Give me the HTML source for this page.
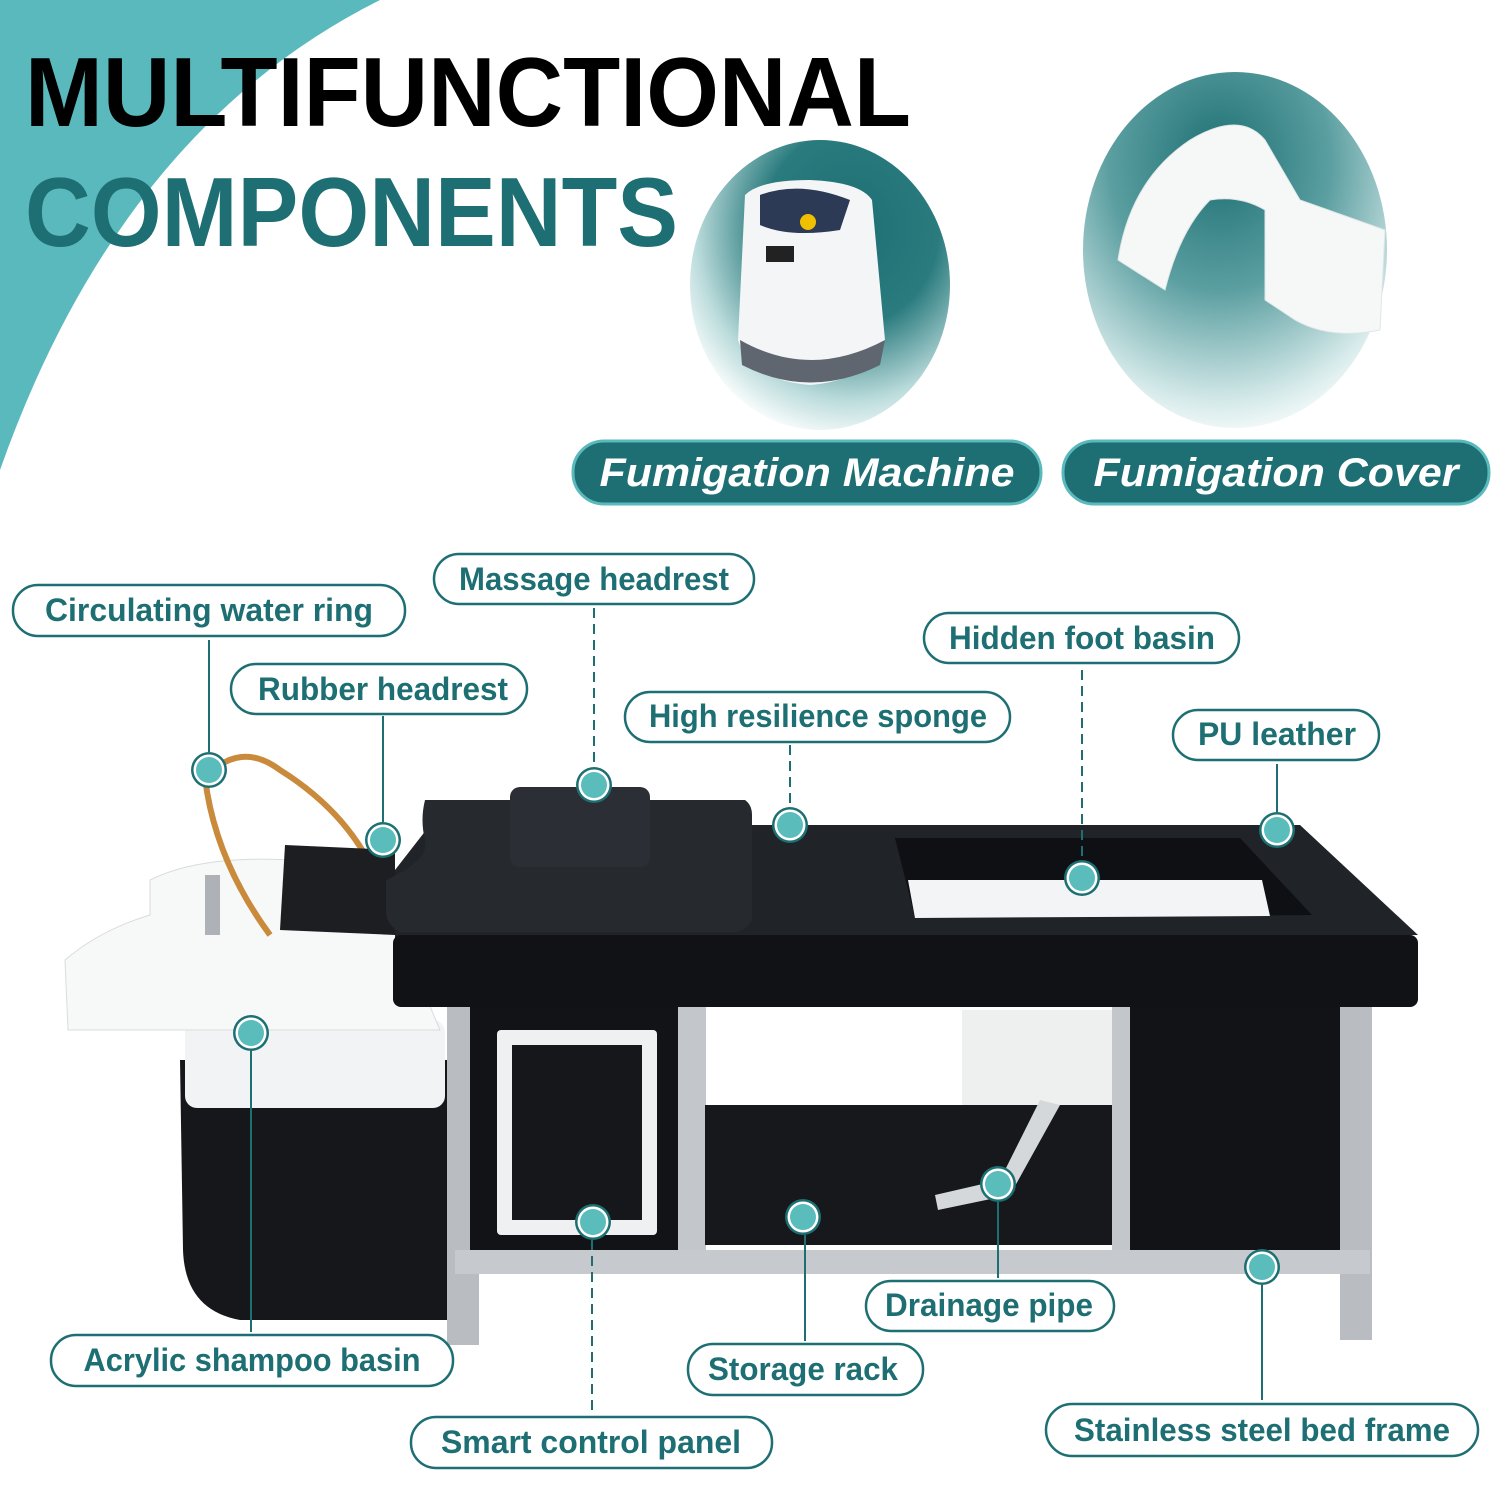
<!DOCTYPE html>
<html><head><meta charset="utf-8"><style>html,body{margin:0;padding:0;background:#fff}svg{display:block}</style></head>
<body>
<svg width="1500" height="1500" viewBox="0 0 1500 1500" xmlns="http://www.w3.org/2000/svg" font-family="Liberation Sans, sans-serif">
<defs>
<radialGradient id="g1" cx="0.62" cy="0.3" r="0.75"><stop offset="0" stop-color="#1d6f73"/><stop offset="0.45" stop-color="#2a7b7e"/><stop offset="0.8" stop-color="#bcdcdc"/><stop offset="1" stop-color="#fff"/></radialGradient>
<radialGradient id="g2" cx="0.45" cy="0.25" r="0.8"><stop offset="0" stop-color="#1d6f73"/><stop offset="0.45" stop-color="#5a9ea0"/><stop offset="0.85" stop-color="#d6eaea"/><stop offset="1" stop-color="#fff"/></radialGradient>
<g id="dot"><circle r="18" fill="#1d6f73"/><circle r="15.5" fill="#fff"/><circle r="13" fill="#5bbcbc"/></g>
</defs>
<path d="M0,0 L380,0 Q120,130 0,470 Z" fill="#5ab9bd"/>
<text x="25" y="126" font-size="98" font-weight="bold" fill="#000" textLength="886" lengthAdjust="spacingAndGlyphs">MULTIFUNCTIONAL</text>
<text x="25" y="246" font-size="98" font-weight="bold" fill="#1d6f73" textLength="653" lengthAdjust="spacingAndGlyphs">COMPONENTS</text>

<ellipse cx="820" cy="285" rx="130" ry="145" fill="url(#g1)"/>
<ellipse cx="1235" cy="250" rx="152" ry="178" fill="url(#g2)"/>
<!-- machine -->
<path d="M745,195 Q760,180 810,180 Q860,182 872,200 L885,340 Q870,380 810,385 Q750,380 738,340 Z" fill="#f4f5f6"/>
<path d="M740,340 Q810,380 885,340 L880,365 Q810,400 742,365 Z" fill="#5f6670"/>
<path d="M760,195 Q800,180 850,200 L840,230 Q790,238 760,225 Z" fill="#2c3a55"/>
<circle cx="808" cy="222" r="8" fill="#f0c000"/>
<rect x="766" y="246" width="28" height="16" fill="#222"/>
<!-- cover -->
<path d="M1190,140 Q1240,110 1265,140 L1300,200 L1385,230 L1380,330 Q1330,340 1295,320 L1265,300 L1265,210 Q1240,195 1210,200 Q1180,230 1165,290 L1118,260 Q1130,180 1190,140 Z" fill="#f6f8f8" stroke="#e0e6e6"/>

<rect x="573" y="441" width="468" height="63" rx="31" fill="#1d6f73" stroke="#5ab9bd" stroke-width="3"/>
<text x="807" y="486" font-size="40" font-weight="bold" font-style="italic" fill="#fff" text-anchor="middle" textLength="415" lengthAdjust="spacingAndGlyphs">Fumigation Machine</text>
<rect x="1063" y="441" width="426" height="63" rx="31" fill="#1d6f73" stroke="#5ab9bd" stroke-width="3"/>
<text x="1276" y="486" font-size="40" font-weight="bold" font-style="italic" fill="#fff" text-anchor="middle" textLength="365" lengthAdjust="spacingAndGlyphs">Fumigation Cover</text>

<!-- bed -->
<path d="M180,1060 L450,1060 L450,1320 L240,1320 Q185,1310 183,1250 Z" fill="#15171b"/>
<rect x="185" y="1020" width="260" height="88" rx="12" fill="#f2f3f4"/>
<path d="M65,960 Q100,930 150,915 L150,880 Q200,855 290,860 Q360,880 400,935 L440,1030 L68,1030 Z" fill="#f7f8f8" stroke="#d8dcde"/>
<rect x="205" y="875" width="15" height="60" fill="#aeb2b6"/>
<path d="M205,778 Q240,740 280,770 Q360,820 385,900" fill="none" stroke="#c98a3c" stroke-width="6"/>
<path d="M205,778 Q215,860 270,935" fill="none" stroke="#c98a3c" stroke-width="6"/>
<path d="M285,845 L395,850 L395,935 L280,930 Z" fill="#1c1e22"/>
<rect x="447" y="1005" width="32" height="340" fill="#b9bcc0"/>
<rect x="470" y="1005" width="210" height="250" fill="#111316"/>
<rect x="497" y="1030" width="160" height="205" rx="4" fill="#eef0f1"/>
<rect x="512" y="1045" width="130" height="175" fill="#15171a"/>
<rect x="678" y="1005" width="28" height="250" fill="#c3c6ca"/>
<rect x="705" y="1105" width="410" height="140" fill="#16181c"/>
<rect x="962" y="1010" width="150" height="95" fill="#eef0f0"/>
<path d="M1040,1100 L1000,1180 L935,1195 L938,1210 L1010,1195 L1060,1105 Z" fill="#d5d8da"/>
<rect x="1112" y="1005" width="28" height="250" fill="#c3c6ca"/>
<rect x="1130" y="1005" width="220" height="245" fill="#111316"/>
<rect x="1340" y="1005" width="32" height="335" fill="#b9bcc0"/>
<rect x="455" y="1250" width="915" height="24" fill="#c6c9cd"/>
<path d="M395,870 L430,825 L1300,825 L1418,935 L395,945 Z" fill="#202328"/>
<rect x="393" y="935" width="1025" height="72" rx="8" fill="#101215"/>
<path d="M895,838 L1240,838 L1312,915 L915,918 Z" fill="#0e1013"/>
<path d="M908,880 L1262,880 L1270,916 L915,918 Z" fill="#f3f4f5"/>
<path d="M425,800 L745,800 Q752,805 752,815 L752,920 Q745,932 735,932 L400,932 Q386,925 386,910 L386,880 Q430,860 425,840 Q420,820 425,800 Z" fill="#26292e"/>
<rect x="510" y="787" width="140" height="80" rx="10" fill="#2b2e34"/>

<!-- connectors -->
<g stroke="#1d6f73" stroke-width="2" fill="none">
<line x1="209" y1="640" x2="209" y2="752"/>
<line x1="594" y1="608" x2="594" y2="767" stroke-dasharray="10,6"/>
<line x1="383" y1="716" x2="383" y2="822"/>
<line x1="790" y1="745" x2="790" y2="807" stroke-dasharray="10,6"/>
<line x1="1082" y1="670" x2="1082" y2="860" stroke-dasharray="10,6"/>
<line x1="1277" y1="764" x2="1277" y2="812"/>
<line x1="251" y1="1051" x2="251" y2="1332"/>
<line x1="592" y1="1240" x2="592" y2="1413" stroke-dasharray="10,6"/>
<line x1="805" y1="1235" x2="805" y2="1341"/>
<line x1="998" y1="1202" x2="998" y2="1278"/>
<line x1="1262" y1="1285" x2="1262" y2="1400"/>
</g>
<use href="#dot" x="209" y="770"/><use href="#dot" x="594" y="785"/><use href="#dot" x="383" y="840"/>
<use href="#dot" x="790" y="825"/><use href="#dot" x="1082" y="878"/><use href="#dot" x="1277" y="830"/>
<use href="#dot" x="251" y="1033"/><use href="#dot" x="593" y="1222"/><use href="#dot" x="803" y="1217"/>
<use href="#dot" x="998" y="1184"/><use href="#dot" x="1262" y="1267"/>

<!-- labels -->
<g fill="#fff" stroke="#1d6f73" stroke-width="2.5">
<rect x="13" y="585" width="392" height="51" rx="25"/>
<rect x="434" y="554" width="320" height="50" rx="25"/>
<rect x="231" y="664" width="296" height="50" rx="25"/>
<rect x="625" y="692" width="385" height="50" rx="25"/>
<rect x="924" y="613" width="315" height="50" rx="25"/>
<rect x="1173" y="710" width="206" height="50" rx="25"/>
<rect x="51" y="1335" width="402" height="51" rx="25"/>
<rect x="411" y="1417" width="361" height="51" rx="25"/>
<rect x="688" y="1344" width="235" height="51" rx="25"/>
<rect x="866" y="1281" width="248" height="50" rx="25"/>
<rect x="1046" y="1404" width="432" height="52" rx="26"/>
</g>
<g fill="#1d6f73" font-size="32" font-weight="bold" text-anchor="middle">
<text x="209" y="621" textLength="328" lengthAdjust="spacingAndGlyphs">Circulating water ring</text>
<text x="594" y="590" textLength="270" lengthAdjust="spacingAndGlyphs">Massage headrest</text>
<text x="383" y="700" textLength="250" lengthAdjust="spacingAndGlyphs">Rubber headrest</text>
<text x="818" y="727" textLength="338" lengthAdjust="spacingAndGlyphs">High resilience sponge</text>
<text x="1082" y="649" textLength="266" lengthAdjust="spacingAndGlyphs">Hidden foot basin</text>
<text x="1277" y="745" textLength="158" lengthAdjust="spacingAndGlyphs">PU leather</text>
<text x="252" y="1371" textLength="337" lengthAdjust="spacingAndGlyphs">Acrylic shampoo basin</text>
<text x="591" y="1453" textLength="300" lengthAdjust="spacingAndGlyphs">Smart control panel</text>
<text x="803" y="1380" textLength="190" lengthAdjust="spacingAndGlyphs">Storage rack</text>
<text x="989" y="1316" textLength="208" lengthAdjust="spacingAndGlyphs">Drainage pipe</text>
<text x="1262" y="1441" textLength="376" lengthAdjust="spacingAndGlyphs">Stainless steel bed frame</text>
</g>
</svg>
</body></html>
